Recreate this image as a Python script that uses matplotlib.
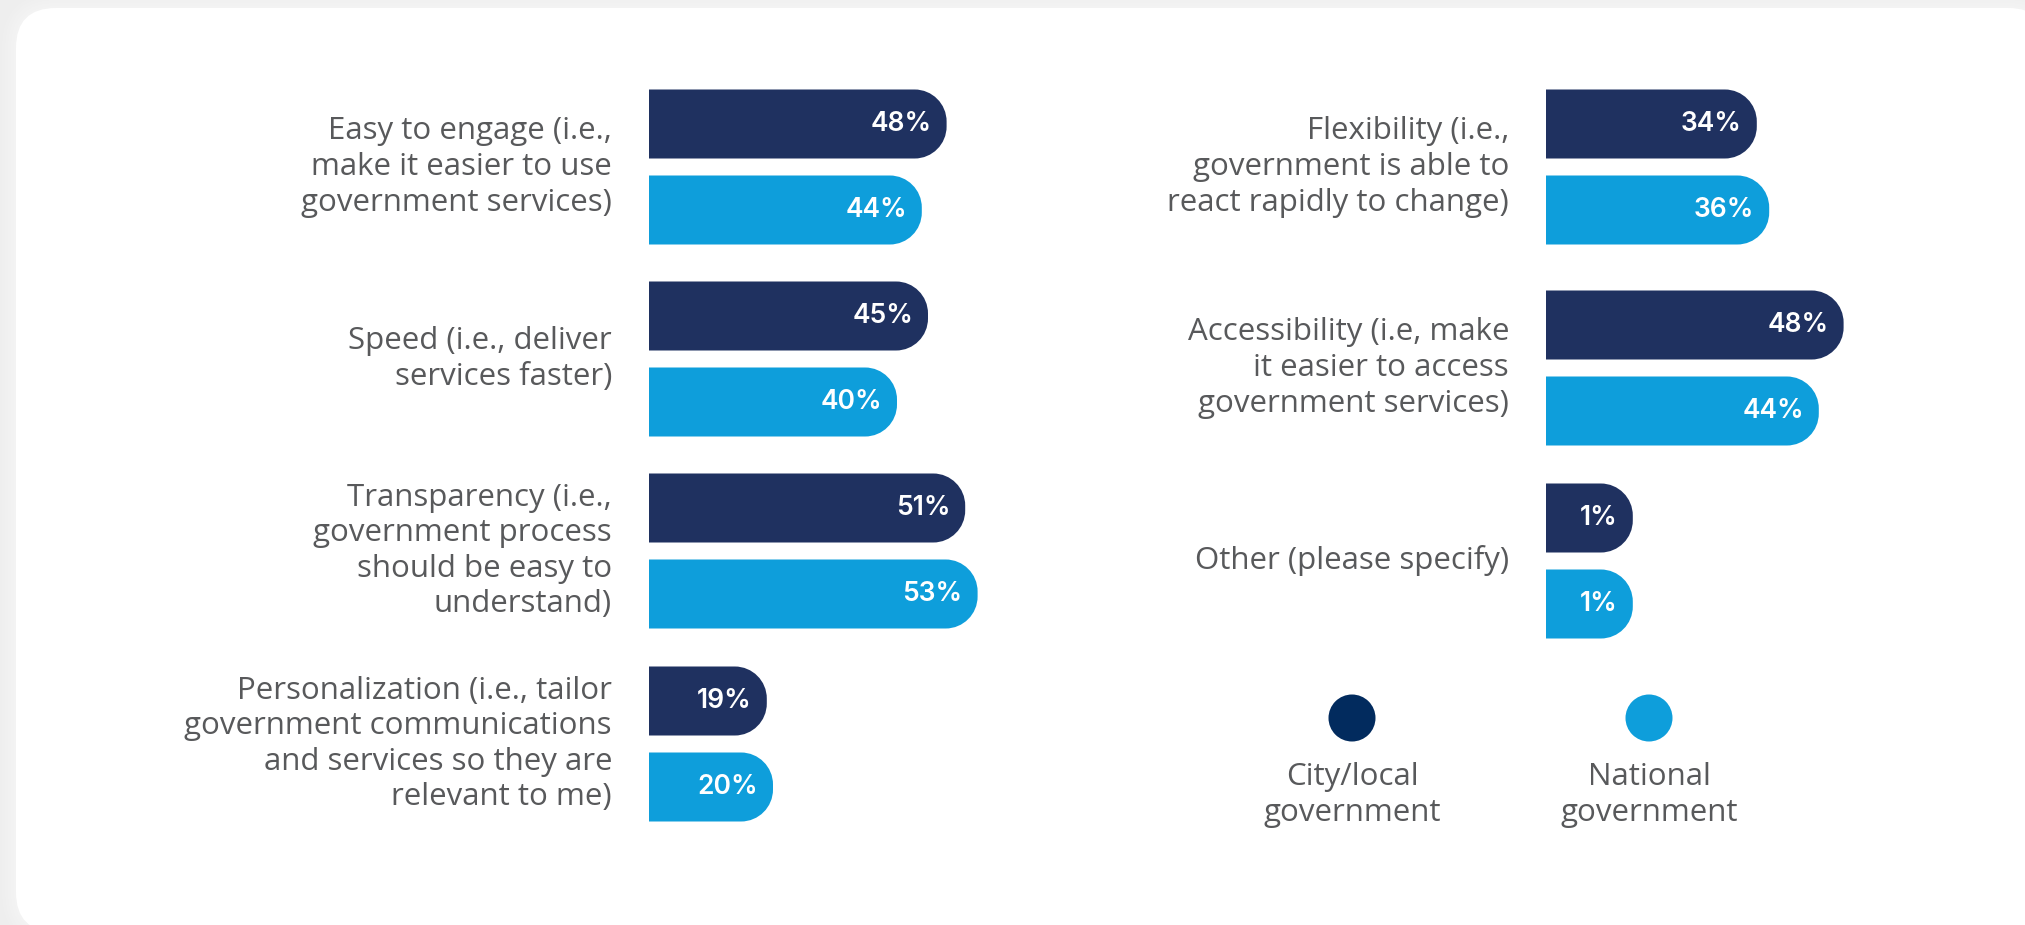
import numpy as np
import matplotlib.pyplot as plt
from matplotlib.path import Path
from matplotlib.patches import PathPatch, FancyBboxPatch, Circle

# survey results, share of respondents (%)
left_labels = [
    "Easy to engage (i.e.,\nmake it easier to use\ngovernment services)",
    "Speed (i.e., deliver\nservices faster)",
    "Transparency (i.e.,\ngovernment process\nshould be easy to\nunderstand)",
    "Personalization (i.e., tailor\ngovernment communications\nand services so they are\nrelevant to me)",
]
left_city = [48, 45, 51, 19]
left_national = [44, 40, 53, 20]

right_labels = [
    "Flexibility (i.e.,\ngovernment is able to\nreact rapidly to change)",
    "Accessibility (i.e, make\nit easier to access\ngovernment services)",
    "Other (please specify)",
]
right_city = [34, 48, 1]
right_national = [36, 44, 1]

series_names = ["City/local\ngovernment", "National\ngovernment"]

DARK = "#1f3160"
LIGHT = "#0e9edb"
DOT_DARK = "#022b5e"
TEXT = "#58595b"
LABEL_FONT = "Open Sans"
LABEL_SIZE = 22.5
LINE_SP = 1.24

W, H = 2025, 925
PX_PER_PCT = 6.2
BAR_H = 69
PAIR_OFF = 43
RADIUS = 32
MIN_LEN = 14   # shortest drawn bar so the label still fits

fig = plt.figure(figsize=(W / 100, H / 100), dpi=100)
fig.patch.set_facecolor("#eeeeee")

# background card with a soft edge
bg = fig.add_axes([0, 0, 1, 1])
bg.set_xlim(0, W)
bg.set_ylim(H, 0)
bg.axis("off")
for i, a in enumerate([0.15, 0.15, 0.2, 0.25, 0.3]):
    grow = 14 - 3 * i
    bg.add_patch(FancyBboxPatch((16 - grow, 8 - grow), 2032 + 2 * grow, 924 + 2 * grow,
                                boxstyle="round,pad=0,rounding_size=%d" % (40 + grow),
                                fc="#f7f7f7", ec="none", alpha=a))
bg.add_patch(FancyBboxPatch((16, 8), 2032, 924, boxstyle="round,pad=0,rounding_size=40",
                            fc="white", ec="none"))


def rounded_bar(ax, length, yc, color):
    # flat on the left, rounded on the right
    rx = RADIUS / PX_PER_PCT
    ry = RADIUS
    k = 0.5523
    y0, y1 = yc - BAR_H / 2, yc + BAR_H / 2
    w = length
    verts = [(0, y0), (w - rx, y0),
             (w - rx + k * rx, y0), (w, y0 + ry - k * ry), (w, y0 + ry),
             (w, y1 - ry),
             (w, y1 - ry + k * ry), (w - rx + k * rx, y1), (w - rx, y1),
             (0, y1), (0, y0)]
    codes = [Path.MOVETO, Path.LINETO,
             Path.CURVE4, Path.CURVE4, Path.CURVE4,
             Path.LINETO,
             Path.CURVE4, Path.CURVE4, Path.CURVE4,
             Path.LINETO, Path.CLOSEPOLY]
    ax.add_patch(PathPatch(Path(verts, codes), fc=color, ec="none"))


def panel(x0_px, centers, labels, city, national):
    width_px = 400
    ax = fig.add_axes([x0_px / W, 0, width_px / W, 1])
    ax.set_xlim(0, width_px / PX_PER_PCT)
    ax.set_ylim(H, 0)
    ax.axis("off")
    for yc, lab, c, n in zip(centers, labels, city, national):
        for val, y, col in [(c, yc - PAIR_OFF, DARK), (n, yc + PAIR_OFF, LIGHT)]:
            length = max(val, MIN_LEN)
            rounded_bar(ax, length, y, col)
            ax.annotate(f"{val}%", xy=(length, y), xytext=(-15, 0),
                        textcoords="offset pixels", ha="right", va="center",
                        color="white", fontsize=19, fontweight="semibold",
                        family="Inter")
        ax.annotate(lab, xy=(0, yc), xytext=(-37, 0), textcoords="offset pixels",
                    ha="right", va="center", ma="right", color=TEXT,
                    fontsize=LABEL_SIZE, family=LABEL_FONT, linespacing=LINE_SP)
    return ax


panel(649, [167, 359, 551, 744], left_labels, left_city, left_national)
panel(1546, [167, 368, 561], right_labels, right_city, right_national)

# legend
for x, col, name in zip([1352, 1649], [DOT_DARK, LIGHT], series_names):
    bg.add_patch(Circle((x, 718), 23.5, fc=col, ec="none"))
    bg.text(x, 795, name, ha="center", va="center", color=TEXT, fontsize=LABEL_SIZE,
            family=LABEL_FONT, linespacing=LINE_SP)

fig.savefig("out.png", dpi=100, facecolor=fig.get_facecolor())
